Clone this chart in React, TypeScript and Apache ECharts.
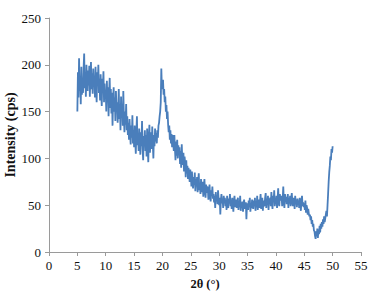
import React, { useEffect, useRef } from "react";
import * as echarts from "echarts";

// XRD scan: 2θ from 5° to 50° in 0.1° steps
const startAngle = 5;
const stepAngle = 0.1;

const intensity: number[] = [
  // 5.0 - 5.9
  150, 192, 165, 207, 172, 186, 158, 198, 168, 184,
  // 6.0 - 6.9
  170, 196, 212, 175, 190, 166, 200, 181, 172, 194,
  // 7.0 - 7.9
  178, 199, 166, 188, 203, 174, 191, 169, 196, 180,
  // 8.0 - 8.9
  187, 165, 198, 176, 160, 192, 179, 200, 170, 185,
  // 9.0 - 9.9
  162, 190, 171, 156, 185, 176, 193, 160, 180, 166,
  // 10.0 - 10.9
  172, 150, 183, 160, 176, 145, 169, 186, 154, 174,
  // 11.0 - 11.9
  148, 170, 135, 162, 176, 150, 165, 140, 172, 152,
  // 12.0 - 12.9
  160, 138, 152, 174, 142, 158, 130, 166, 145, 155,
  // 13.0 - 13.9
  135, 172, 144, 128, 150, 136, 158, 130, 145, 125,
  // 14.0 - 14.9
  138, 120, 142, 126, 115, 135, 122, 146, 116, 130,
  // 15.0 - 15.9
  112, 135, 120, 105, 128, 145, 114, 125, 108, 132,
  // 16.0 - 16.9
  120, 104, 128, 113, 140, 110, 98, 124, 116, 130,
  // 17.0 - 17.9
  108, 125, 102, 132, 114, 96, 122, 136, 106, 120,
  // 18.0 - 18.9
  128, 110, 134, 116, 100, 125, 113, 132, 118, 127,
  // 19.0 - 19.9
  116, 130, 122, 135, 138, 145, 150, 160, 196, 174,
  // 20.0 - 20.9
  178, 184, 168, 174, 160, 166, 150, 157, 142, 150,
  // 21.0 - 21.9
  136, 128, 135, 120, 130, 116, 126, 112, 125, 116,
  // 22.0 - 22.9
  108, 125, 110, 98, 118, 103, 120, 100, 114, 104,
  // 23.0 - 23.9
  112, 94, 108, 90, 115, 98, 93, 106, 86, 102,
  // 24.0 - 24.9
  95, 80, 98, 84, 92, 78, 90, 82, 75, 88,
  // 25.0 - 25.9
  82, 70, 86, 74, 68, 80, 72, 85, 65, 78,
  // 26.0 - 26.9
  70, 80, 64, 75, 84, 66, 72, 62, 78, 68,
  // 27.0 - 27.9
  64, 75, 59, 70, 78, 64, 58, 72, 63, 70,
  // 28.0 - 28.9
  68, 56, 64, 72, 59, 54, 66, 60, 70, 57,
  // 29.0 - 29.9
  62, 53, 60, 47, 64, 55, 60, 51, 66, 56,
  // 30.0 - 30.9
  50, 58, 40, 55, 62, 52, 57, 47, 60, 53,
  // 31.0 - 31.9
  58, 49, 56, 45, 60, 51, 47, 57, 52, 62,
  // 32.0 - 32.9
  49, 56, 46, 58, 51, 43, 55, 60, 48, 53,
  // 33.0 - 33.9
  56, 47, 54, 58, 45, 52, 49, 60, 44, 53,
  // 34.0 - 34.9
  47, 54, 43, 52, 56, 46, 50, 53, 35, 50,
  // 35.0 - 35.9
  52, 45, 55, 48, 58, 43, 51, 47, 56, 50,
  // 36.0 - 36.9
  46, 55, 49, 58, 44, 52, 48, 60, 45, 54,
  // 37.0 - 37.9
  56, 47, 54, 62, 46, 52, 58, 44, 55, 49,
  // 38.0 - 38.9
  50, 58, 63, 47, 55, 51, 60, 45, 57, 53,
  // 39.0 - 39.9
  58, 49, 64, 53, 46, 60, 54, 66, 49, 56,
  // 40.0 - 40.9
  51, 60, 47, 57, 68, 53, 49, 62, 55, 58,
  // 41.0 - 41.9
  60, 49, 57, 70, 52, 47, 62, 54, 59, 51,
  // 42.0 - 42.9
  56, 62, 47, 58, 52, 60, 49, 57, 63, 53,
  // 43.0 - 43.9
  49, 58, 54, 46, 60, 51, 56, 48, 57, 52,
  // 44.0 - 44.9
  55, 47, 58, 51, 44, 54, 60, 49, 53, 48,
  // 45.0 - 45.9
  52, 45, 55, 42, 50, 47, 40, 46, 41, 38,
  // 46.0 - 46.9
  40, 34, 38, 30, 34, 27, 30, 23, 22, 17,
  // 47.0 - 47.9
  14, 22, 17, 25, 15, 24, 19, 28, 21, 30,
  // 48.0 - 48.9
  25, 32, 27, 35, 30, 38, 32, 36, 40, 44,
  // 49.0 - 49.9
  38, 50, 62, 75, 85, 92, 102, 98, 110, 106,
  // 50.0
  113,
];

const xTicks = [0, 5, 10, 15, 20, 25, 30, 35, 40, 45, 50, 55];
const yTicks = [0, 50, 100, 150, 200, 250];

const xTitle = "2θ (°)";
const yTitle = "Intensity (cps)";

export default function App() {
  const ref = useRef<HTMLDivElement>(null);

  useEffect(() => {
    if (!ref.current) return;
    const chart = echarts.init(ref.current, undefined, { renderer: "svg" });
    const data = intensity.map((v, i) => [
      Math.round((startAngle + i * stepAngle) * 10) / 10,
      v,
    ]);
    const serif = "'Liberation Serif', 'Times New Roman', serif";
    const axisGray = "#9a9a9a";
    chart.setOption({
      animation: false,
      backgroundColor: "#ffffff",
      grid: {
        left: 49,
        right: 22,
        top: 18,
        bottom: 56,
        containLabel: false,
        outerBoundsMode: "none",
      },
      xAxis: {
        type: "value",
        min: xTicks[0],
        max: xTicks[xTicks.length - 1],
        interval: 5,
        name: xTitle,
        nameLocation: "middle",
        nameGap: 25,
        nameMoveOverlap: false,
        nameTextStyle: { fontFamily: serif, fontWeight: "bold", fontSize: 12.5, color: "#111" },
        axisLine: { show: true, lineStyle: { color: axisGray, width: 1 } },
        axisTick: { show: true, length: 4, inside: false, lineStyle: { color: axisGray } },
        axisLabel: { fontFamily: serif, fontSize: 13, color: "#111", margin: 7 },
        splitLine: { show: false },
      },
      yAxis: {
        type: "value",
        min: yTicks[0],
        max: yTicks[yTicks.length - 1],
        interval: 50,
        name: yTitle,
        nameLocation: "middle",
        nameGap: 32,
        nameMoveOverlap: false,
        nameRotate: 90,
        nameTextStyle: { fontFamily: serif, fontWeight: "bold", fontSize: 14, color: "#111" },
        axisLine: { show: true, lineStyle: { color: axisGray, width: 1 } },
        axisTick: { show: true, length: 4, inside: false, lineStyle: { color: axisGray } },
        axisLabel: { fontFamily: serif, fontSize: 13, color: "#111", margin: 8 },
        splitLine: { show: false },
      },
      series: [
        {
          type: "line",
          data,
          showSymbol: false,
          symbol: "none",
          lineStyle: { color: "#4a7ebb", width: 1.8 },
        },
      ],
    });
    return () => chart.dispose();
  }, []);

  return (
    <div
      ref={ref}
      style={{ position: "fixed", left: 0, top: 0, width: 383, height: 308, background: "#fff" }}
    />
  );
}
